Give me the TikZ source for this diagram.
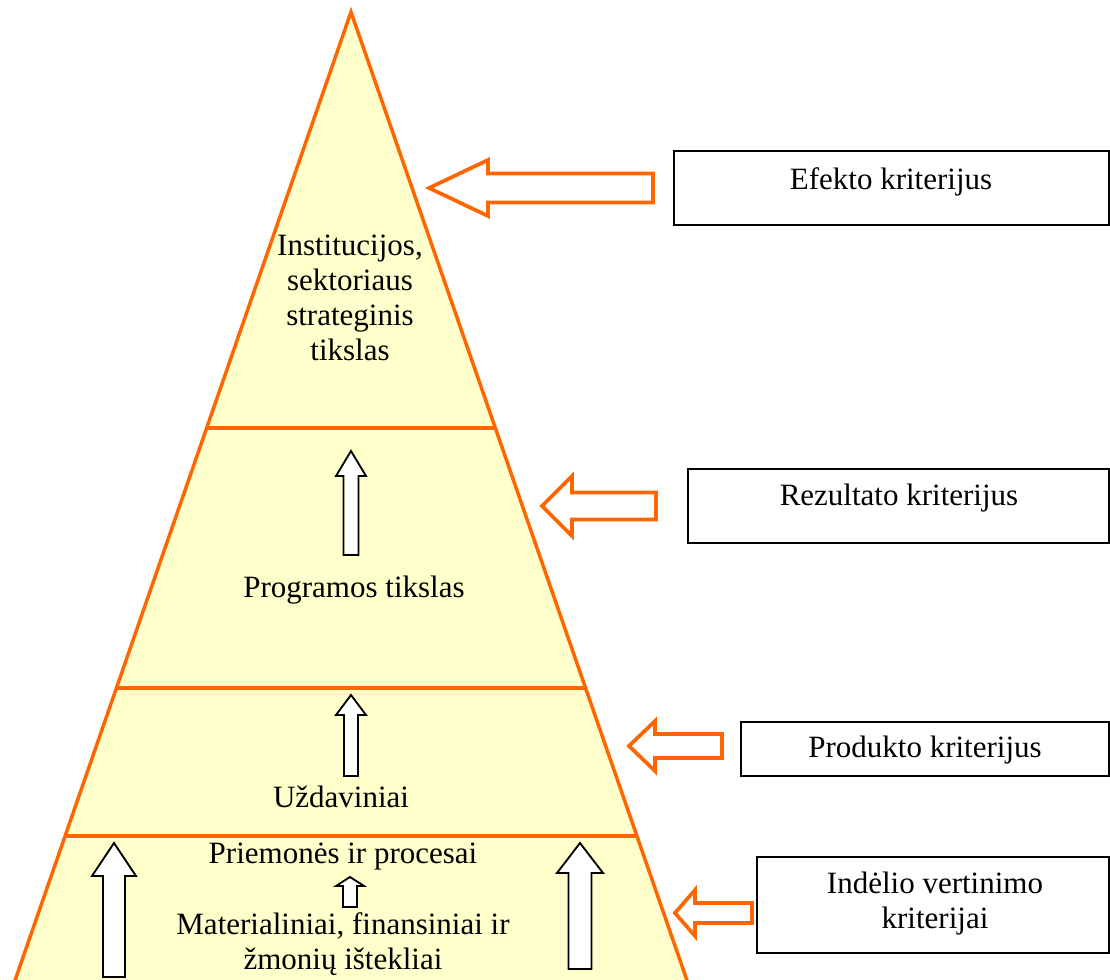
\documentclass[tikz,border=0pt]{standalone}
\usepackage{fontspec}
\setmainfont{Liberation Serif}
\usetikzlibrary{calc}
\definecolor{pyrfill}{HTML}{FFFFCC}
\definecolor{pyrline}{HTML}{FF6600}

% hollow block arrow pointing left: tip x, tip y, head base x, head half height, shaft half height, tail x
\newcommand{\leftblock}[6]{%
  \draw[hollowleft] (#1,#2) -- (#3,#2-#4) -- (#3,#2-#5) -- (#6,#2-#5)
    -- (#6,#2+#5) -- (#3,#2+#5) -- (#3,#2+#4) -- cycle;}
% hollow block arrow pointing up: tip x, tip y, head base y, head half width, shaft half width, bottom y
\newcommand{\upblock}[6]{%
  \draw[hollowup] (#1,#2) -- (#1+#4,#3) -- (#1+#5,#3) -- (#1+#5,#6)
    -- (#1-#5,#6) -- (#1-#5,#3) -- (#1-#4,#3) -- cycle;}

\begin{document}
\begin{tikzpicture}[x=0.75pt,y=-0.75pt,
  lbl/.style={font=\fontsize{23.25pt}{26.25pt}\selectfont, align=center, inner sep=0pt},
  tier/.style={draw=pyrline, line width=2.6pt},
  critbox/.style={draw=black, line width=1.5pt, fill=white},
  hollowleft/.style={draw=pyrline, line width=2.8pt, fill=white, line join=miter},
  hollowup/.style={draw=black, line width=1.4pt, fill=white, line join=miter}]

\useasboundingbox (0,0) rectangle (1110,980);
\clip (0,0) rectangle (1110,980);
\fill[white] (0,0) rectangle (1110,980);

% pyramid
\coordinate (apex) at (351,12);
\coordinate (bl) at (8.2,1000);
\coordinate (br) at (693.8,1000);
\fill[pyrfill] (apex) -- (bl) -- (br) -- cycle;
\foreach \n/\t in {a/416, b/676, c/824}{
  \coordinate (L\n) at ($(apex)!{\t/988}!(bl)$);
  \coordinate (R\n) at ($(apex)!{\t/988}!(br)$);
}
\draw[tier] (La) -- (Ra);
\draw[tier] (Lb) -- (Rb);
\draw[tier] (Lc) -- (Rc);
\draw[tier, line join=miter] (bl) -- (apex) -- (br);

% level texts
\node[lbl] (goal) at (350,297.5) {Institucijos,\\sektoriaus\\strateginis\\tikslas};
\node[lbl] (prog) at (354,590) {Programos tikslas};
\node[lbl] (tasks) at (341,797) {Uždaviniai};
\node[lbl] (means) at (343,857) {Priemonės ir procesai};
\node[lbl] (res) at (343,944.5) {Materialiniai, finansiniai ir\\žmonių ištekliai};

% upward arrows inside the pyramid
\upblock{351}{451}{476}{15}{7.5}{555}
\upblock{351}{695}{715}{15}{7}{776}
\upblock{350}{877}{886}{14}{7}{907}
\upblock{114}{843}{876}{22}{11}{977}
\upblock{580}{843}{873}{23}{11.5}{969}

% criteria boxes
\node[critbox, minimum width=435pt*0.75, minimum height=74pt*0.75, inner sep=0pt] (b1) at (891.5,188) {};
\node[critbox, minimum width=421pt*0.75, minimum height=74pt*0.75, inner sep=0pt] (b2) at (898.5,506) {};
\node[critbox, minimum width=368pt*0.75, minimum height=54pt*0.75, inner sep=0pt] (b3) at (925,749) {};
\node[critbox, minimum width=352pt*0.75, minimum height=96pt*0.75, inner sep=0pt] (b4) at (933,905) {};
\node[lbl] (t1) at (891,182) {Efekto kriterijus};
\node[lbl] (t2) at (899,498) {Rezultato kriterijus};
\node[lbl] (t3) at (925,750) {Produkto kriterijus};
\node[lbl] (t4) at (935,904) {Indėlio vertinimo\\kriterijai};

% orange arrows pointing at the pyramid
\leftblock{429}{188}{488}{28}{14.5}{653}
\leftblock{542}{506}{572}{30}{13.5}{656}
\leftblock{629}{746}{655}{25}{12}{722}
\leftblock{675}{913}{695}{23}{10}{752}
\end{tikzpicture}
\end{document}
